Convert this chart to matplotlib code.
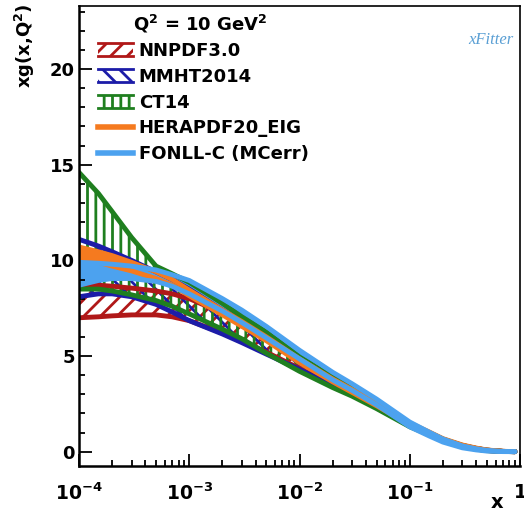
import numpy as np
import matplotlib
matplotlib.use("Agg")
import matplotlib.pyplot as plt
from matplotlib.patches import Rectangle
from matplotlib.lines import Line2D
from matplotlib.legend_handler import HandlerBase
from matplotlib.ticker import LogLocator, MultipleLocator, FixedLocator

plt.rcParams['font.family'] = ['DejaVu Sans']
plt.rcParams['font.weight'] = 'bold'
plt.rcParams['mathtext.fontset'] = 'dejavusans'
plt.rcParams['mathtext.default'] = 'bf'
plt.rcParams['hatch.linewidth'] = 2.0

# x grid and bands (lower / upper)
x = [1e-4, 1.5e-4, 2e-4, 3e-4, 5e-4, 7e-4, 1e-3, 2e-3, 3e-3, 5e-3,
     1e-2, 2e-2, 3e-2, 5e-2, 0.1, 0.15, 0.2, 0.3, 0.4, 0.5, 0.7, 0.9]

nnpdf_lo = [7.0, 7.05, 7.1, 7.15, 7.15, 7.05, 6.85, 6.2, 5.8, 5.2,
            4.35, 3.5, 3.05, 2.3, 1.35, 0.9, 0.58, 0.27, 0.14, 0.06, 0.01, 0.0]
nnpdf_hi = [8.7, 8.7, 8.65, 8.55, 8.4, 8.25, 8.0, 7.25, 6.75, 5.95,
            4.75, 3.8, 3.3, 2.5, 1.45, 0.98, 0.64, 0.32, 0.17, 0.08, 0.015, 0.0]

mmht_lo = [8.1, 8.25, 8.25, 8.1, 7.7, 7.3, 6.85, 6.15, 5.7, 5.1,
           4.3, 3.45, 3.0, 2.3, 1.35, 0.9, 0.57, 0.27, 0.14, 0.06, 0.01, 0.0]
mmht_hi = [11.1, 10.75, 10.45, 10.0, 9.4, 9.0, 8.5, 7.4, 6.8, 6.0,
           4.75, 3.8, 3.3, 2.5, 1.45, 0.98, 0.64, 0.32, 0.17, 0.08, 0.015, 0.0]

ct14_lo = [8.5, 8.5, 8.4, 8.2, 7.9, 7.6, 7.2, 6.4, 5.9, 5.15,
           4.2, 3.35, 2.9, 2.25, 1.3, 0.88, 0.56, 0.26, 0.13, 0.055, 0.008, 0.0]
ct14_hi = [14.6, 13.5, 12.55, 11.2, 9.7, 9.3, 8.85, 7.75, 7.05, 6.25,
           4.95, 3.9, 3.35, 2.55, 1.48, 1.0, 0.66, 0.33, 0.17, 0.08, 0.015, 0.0]

hera_lo = [10.1, 9.9, 9.7, 9.45, 9.05, 8.7, 8.15, 7.15, 6.55, 5.8,
           4.65, 3.65, 3.1, 2.4, 1.4, 0.96, 0.62, 0.31, 0.16, 0.07, 0.012, 0.0]
hera_hi = [10.7, 10.45, 10.25, 9.9, 9.4, 9.0, 8.45, 7.4, 6.8, 6.0,
           4.85, 3.8, 3.25, 2.55, 1.5, 1.03, 0.68, 0.35, 0.19, 0.09, 0.02, 0.0]

fonll_lo = [8.7, 8.95, 9.05, 9.05, 8.9, 8.65, 8.25, 7.35, 6.75, 5.95,
            4.85, 3.75, 3.2, 2.45, 1.3, 0.82, 0.5, 0.2, 0.09, 0.03, 0.003, 0.0]
fonll_hi = [9.9, 9.85, 9.8, 9.7, 9.5, 9.25, 8.95, 8.0, 7.4, 6.55,
            5.3, 4.15, 3.55, 2.75, 1.55, 1.02, 0.66, 0.3, 0.15, 0.07, 0.01, 0.0]

labels = ['NNPDF3.0', 'MMHT2014', 'CT14', 'HERAPDF20_EIG', 'FONLL-C (MCerr)']
colors = ['#b01818', '#1c1ca8', '#1f7f1f', '#f57a1f', '#4ca2ef']
hatches = ['//', '\\\\', '||', None, None]
bands = [(nnpdf_lo, nnpdf_hi), (mmht_lo, mmht_hi), (ct14_lo, ct14_hi),
         (hera_lo, hera_hi), (fonll_lo, fonll_hi)]


class BandHandler(HandlerBase):
    # hatched box with a line on top and bottom, like the ROOT legend
    def __init__(self, color, hatch):
        super().__init__()
        self.color = color
        self.hatch = hatch

    def create_artists(self, legend, orig_handle, xdescent, ydescent,
                       width, height, fontsize, trans):
        x0, y0 = -xdescent, -ydescent
        rect = Rectangle((x0, y0), width, height, facecolor='none',
                         edgecolor=self.color, hatch=self.hatch, lw=0,
                         transform=trans)
        top = Line2D([x0, x0 + width], [y0 + height] * 2, color=self.color,
                     lw=2, transform=trans)
        bot = Line2D([x0, x0 + width], [y0] * 2, color=self.color,
                     lw=2, transform=trans)
        return [rect, top, bot]


fig = plt.figure(figsize=(5.24, 5.12), dpi=100)
ax = fig.add_axes([79/524, 46/512, 441/524, 460/512])

for (lo, hi), c, h in zip(bands, colors, hatches):
    if h:
        ax.fill_between(x, lo, hi, facecolor='none', edgecolor=c, hatch=h, linewidth=0)
    else:
        ax.fill_between(x, lo, hi, color=c, linewidth=0)
    ax.plot(x, lo, color=c, lw=3.5, solid_capstyle='round')
    ax.plot(x, hi, color=c, lw=3.5, solid_capstyle='round')

ax.set_xscale('log')
ax.set_xlim(1e-4, 1)
ax.set_ylim(-0.75, 23.3)

ax.xaxis.set_major_locator(FixedLocator([1e-4, 1e-3, 1e-2, 1e-1, 1]))
ax.xaxis.set_minor_locator(LogLocator(base=10, subs=np.arange(2, 10), numticks=20))
ax.set_xticklabels([r'$\mathbf{10^{-4}}$', r'$\mathbf{10^{-3}}$', r'$\mathbf{10^{-2}}$',
                    r'$\mathbf{10^{-1}}$', r'$\mathbf{1}$'])
ax.yaxis.set_major_locator(MultipleLocator(5))
ax.yaxis.set_minor_locator(MultipleLocator(1))

ax.tick_params(which='both', direction='in', top=False, right=False, width=1.3)
ax.tick_params(which='major', length=9)
ax.tick_params(which='minor', length=4.5)
ax.tick_params(axis='x', which='major', labelsize=13.5, pad=12)
ax.tick_params(axis='y', which='major', labelsize=13, pad=3)
for sp in ax.spines.values():
    sp.set_linewidth(1.2)
ax.spines['left'].set_linewidth(1.8)
ax.spines['bottom'].set_linewidth(1.8)

handles = []
hmap = {}
for c, h in zip(colors, hatches):
    if h:
        hd = Rectangle((0, 0), 1, 1)
        hmap[hd] = BandHandler(c, h)
    else:
        hd = Line2D([0], [0], color=c, lw=4)
    handles.append(hd)
ax.legend(handles, labels, handler_map=hmap, loc='upper left',
          bbox_to_anchor=(19/441, (466 - 42)/460),
          frameon=False, borderpad=0, borderaxespad=0, handlelength=1.95,
          handletextpad=0.3, labelspacing=0.43,
          prop={'weight': 'bold', 'size': 13})

fig.text(133/524, 1 - 24/512, r'Q$^{2}$ = 10 GeV$^{2}$', fontsize=13,
         ha='left', va='center')
fig.text(491/524, 1 - 40/512, 'xFitter', fontsize=12, style='italic',
         family='Liberation Serif', fontweight='normal',
         color='#5a9fd4', ha='center', va='center')
fig.text(25/524, 1 - 3/512, r'xg(x,Q$^{2}$)', fontsize=13,
         rotation=90, ha='center', va='top')
fig.text(497/524, 1 - 503/512, 'x', fontsize=14, ha='center', va='center')

fig.savefig('out.png', dpi=100)
